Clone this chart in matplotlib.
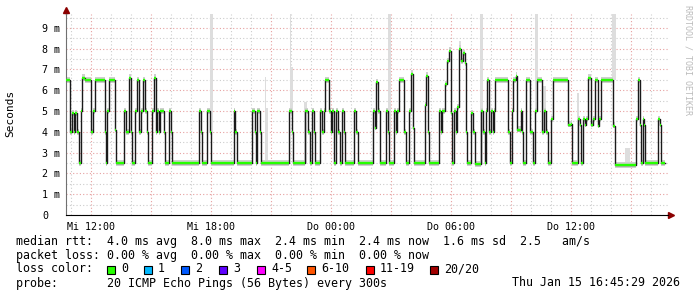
import matplotlib
matplotlib.use('Agg')
import matplotlib.pyplot as plt
from matplotlib.patches import Rectangle
import numpy as np

plt.rcParams['font.family'] = 'DejaVu Sans Mono'

# median rtt as steps: hour of change (0 = Mi 00:00) and new value in ms
step_hours = [
    10.75, 10.95, 11.05, 11.15, 11.20, 11.32, 11.42, 11.48, 11.57, 11.68,
    11.98, 12.12, 12.18, 12.68, 12.73, 12.82, 12.92, 13.18, 13.25, 13.67,
    13.77, 13.92, 13.98, 14.07, 14.22, 14.30, 14.42, 14.52, 14.58, 14.72,
    14.78, 14.83, 15.07, 15.15, 15.25, 15.32, 15.40, 15.47, 15.65, 15.70,
    15.90, 16.02, 16.07, 17.40, 17.48, 17.57, 17.82, 17.95, 17.98, 19.15,
    19.22, 19.28, 20.07, 20.18, 20.23, 20.32, 20.43, 20.48,
    21.90, 22.03, 22.08, 22.70, 22.83, 22.93, 23.05, 23.15, 23.20, 23.45,
    23.57, 23.63, 23.70, 23.90, 23.98, 24.07, 24.15, 24.23, 24.35, 24.43,
    24.55, 24.65, 24.72, 25.15, 25.27, 25.35,
    26.08, 26.18, 26.25, 26.35, 26.43, 26.73, 26.85, 26.92, 27.15, 27.23,
    27.32, 27.42, 27.67, 27.73, 27.92, 27.98, 28.10, 28.17, 28.68, 28.75,
    28.85, 28.92, 29.42, 29.48, 29.55, 29.70, 29.82, 29.90, 29.98, 30.07,
    30.15, 30.23, 30.32, 30.40, 30.52, 30.60, 30.68, 30.75, 30.82, 30.98,
    31.12, 31.18, 31.48, 31.62, 31.68, 31.73, 31.82, 31.92, 31.98, 32.08,
    32.15, 32.22, 32.85, 32.95, 33.03, 33.10, 33.23, 33.32, 33.48, 33.55,
    33.62, 33.73, 33.95, 34.12, 34.20, 34.28, 34.57, 34.65, 34.73, 34.85,
    35.02, 35.10,
    35.85, 35.98, 36.07, 36.35, 36.45, 36.52, 36.58, 36.68, 36.75, 36.85,
    36.98, 37.08, 37.18, 37.35, 37.42, 37.48, 38.12, 38.20, 39.23, 39.35,
    39.43, 39.52, 39.58, 39.65, 39.70, 40.37, 40.45, 40.52,
]
median_ms = [
    6.5, 4.0, 4.9, 4.0, 4.9, 4.0, 2.5, 5.0, 6.6, 6.5,
    4.0, 5.0, 6.5, 4.0, 2.5, 5.0, 6.5, 4.1, 2.5, 5.0,
    4.0, 6.6, 4.0, 2.5, 5.0, 6.5, 4.0, 5.0, 6.5, 5.0,
    4.0, 2.5, 5.0, 6.6, 4.0, 5.0, 4.0, 5.0, 4.0, 2.5,
    5.0, 4.0, 2.5, 5.0, 4.0, 2.5, 5.0, 4.0, 2.5, 5.0,
    4.0, 2.5, 5.0, 4.0, 2.5, 5.0, 4.0, 2.5,
    5.0, 4.0, 2.5, 5.0, 4.0, 2.5, 5.0, 4.0, 2.5, 5.0,
    4.0, 5.0, 6.5, 5.0, 4.0, 5.0, 2.5, 5.0, 4.0, 2.5,
    5.0, 4.0, 2.5, 5.0, 4.0, 2.5,
    5.0, 4.2, 6.4, 5.0, 2.5, 5.0, 4.0, 2.5, 5.0, 4.0,
    5.0, 6.5, 4.0, 2.5, 5.0, 6.8, 4.2, 2.5, 5.3, 6.7,
    4.0, 2.5, 5.0, 4.0, 5.0, 6.3, 7.4, 7.9, 4.9, 2.5,
    5.0, 4.0, 5.2, 8.0, 7.4, 7.8, 7.3, 4.0, 2.5, 4.9,
    4.0, 2.45, 5.0, 4.0, 2.5, 5.0, 6.5, 4.0, 5.0, 4.0,
    5.0, 6.5, 4.0, 2.5, 5.0, 6.5, 6.7, 4.1, 5.0, 4.0,
    2.5, 6.5, 4.0, 2.5, 5.0, 6.5, 4.0, 5.0, 4.0, 2.5,
    4.6, 6.5,
    4.35, 4.4, 2.5, 4.6, 4.35, 2.5, 4.6, 4.35, 4.6, 6.6,
    4.35, 4.6, 6.5, 4.3, 4.6, 6.5, 4.3, 2.4, 4.6, 6.5,
    4.35, 2.5, 4.6, 4.35, 2.5, 4.6, 4.35, 2.5,
]
end_hour = 40.70

# light grey outliers of the smoke (start hour, end hour, top in ms)
spike_start = [17.95, 20.70, 20.74, 21.95, 21.99, 22.65, 26.85, 30.40, 31.45, 34.20, 34.60, 36.30, 38.05, 38.70]
spike_end = [18.12, 20.74, 20.85, 21.99, 22.10, 22.80, 26.99, 30.50, 31.60, 34.35, 34.75, 36.40, 38.25, 38.95]
spike_top = [9.7, 6.65, 5.15, 9.7, 7.1, 5.45, 9.7, 8.35, 9.7, 9.7, 6.2, 5.85, 9.7, 3.2]

tick_hours = [12, 18, 24, 30, 36]
tick_labels = ['Mi 12:00', 'Mi 18:00', 'Do 00:00', 'Do 06:00', 'Do 12:00']

loss_labels = ['0', '1', '2', '3', '4-5', '6-10', '11-19', '20/20']
loss_colors = ['#26ff00', '#00b8ff', '#0059ff', '#5e00ff', '#ff00ff', '#ff5500', '#ff0000', '#a10000']
loss_x = [107, 144, 181, 219, 257, 307, 366, 430]

W, H = 697, 297
fig = plt.figure(figsize=(W / 100, H / 100), dpi=100)
ax = fig.add_axes([66 / W, 1 - 215 / H, 602 / W, 201 / H])

t = np.array(step_hours + [end_hour])
v = np.array(median_ms + [median_ms[-1]])

# smoke around the median
ax.fill_between(t, v - 0.13, v + 0.16, step='post', color='#cfcfcf', lw=0, zorder=2)
for s, e, top in zip(spike_start, spike_end, spike_top):
    base = v[np.searchsorted(t, s, side='right') - 1]
    ax.bar(s, top - base, bottom=base, width=e - s, align='edge',
           color='#dddddd', lw=0, zorder=1.8)

# median line: black risers, green levels
ax.step(t, v, where='post', color='#1a1a1a', lw=1.0, zorder=3)
ax.hlines(median_ms, t[:-1], t[1:], color='#26ff00', lw=1.7, zorder=4)

ax.set_xlim(10.75, 40.85)
ax.set_ylim(0, 9.67)

ax.set_xticks(np.arange(12, 40.9, 3))
ax.set_xticklabels([tick_labels[tick_hours.index(h)] if h in tick_hours else ''
                    for h in np.arange(12, 40.9, 3)])
ax.set_xticks(np.arange(11, 40.9, 1), minor=True)
ax.set_yticks(range(10))
ax.set_yticklabels(['0'] + ['%d m' % i for i in range(1, 10)])
ax.set_yticks(np.arange(0.5, 9.6, 1), minor=True)

ax.set_axisbelow(True)
ax.grid(which='major', color='#e6a0a0', linestyle=(0, (1, 2)), lw=0.8)
ax.grid(which='minor', color='#cccccc', linestyle=(0, (1, 2)), lw=0.8)

ax.tick_params(which='both', length=0)
ax.tick_params(axis='x', labelsize=7.2, pad=5)
ax.tick_params(axis='y', labelsize=7.2, pad=17)
for lab in ax.get_yticklabels():
    lab.set_horizontalalignment('left')

for side in ['top', 'right']:
    ax.spines[side].set_visible(False)
ax.spines['left'].set_color('#707070')
ax.spines['bottom'].set_color('black')
ax.plot([0, 0], [1, 1.02], color='#707070', lw=1, transform=ax.transAxes, clip_on=False)
ax.plot([0], [1.02], marker='^', color='#8b0000', ms=4, transform=ax.transAxes, clip_on=False)
ax.plot([1, 1.005], [0, 0], color='black', lw=1, transform=ax.transAxes, clip_on=False)
ax.plot([1.005], [0], marker='>', color='#8b0000', ms=4, transform=ax.transAxes, clip_on=False)

fig.text(10 / W, 1 - 113 / H, 'Seconds', rotation=90, ha='center', va='center', fontsize=8)
fig.text(688 / W, 1 - 60 / H, 'RRDTOOL / TOBI OETIKER', rotation=270, ha='center',
         va='center', fontsize=6, color='#bbbbbb')

fs = 8.4
fig.text(16 / W, 1 - 241 / H,
         'median rtt:  4.0 ms avg  8.0 ms max  2.4 ms min  2.4 ms now  1.6 ms sd  2.5   am/s',
         va='center', fontsize=fs)
fig.text(16 / W, 1 - 255 / H,
         'packet loss: 0.00 % avg  0.00 % max  0.00 % min  0.00 % now',
         va='center', fontsize=fs)
fig.text(16 / W, 1 - 269 / H, 'loss color:', va='center', fontsize=fs)
for lx, col, lab in zip(loss_x, loss_colors, loss_labels):
    fig.add_artist(Rectangle((lx / W, 1 - 273.5 / H), 8 / W, 8 / H,
                             transform=fig.transFigure, facecolor=col,
                             edgecolor='black', lw=0.8))
    fig.text((lx + 14) / W, 1 - 269 / H, lab, va='center', fontsize=fs)
fig.text(16 / W, 1 - 283 / H, 'probe:       20 ICMP Echo Pings (56 Bytes) every 300s',
         va='center', fontsize=fs)
fig.text(680 / W, 1 - 283 / H, 'Thu Jan 15 16:45:29 2026', ha='right', va='center', fontsize=fs)

fig.savefig('out.png', dpi=100)
